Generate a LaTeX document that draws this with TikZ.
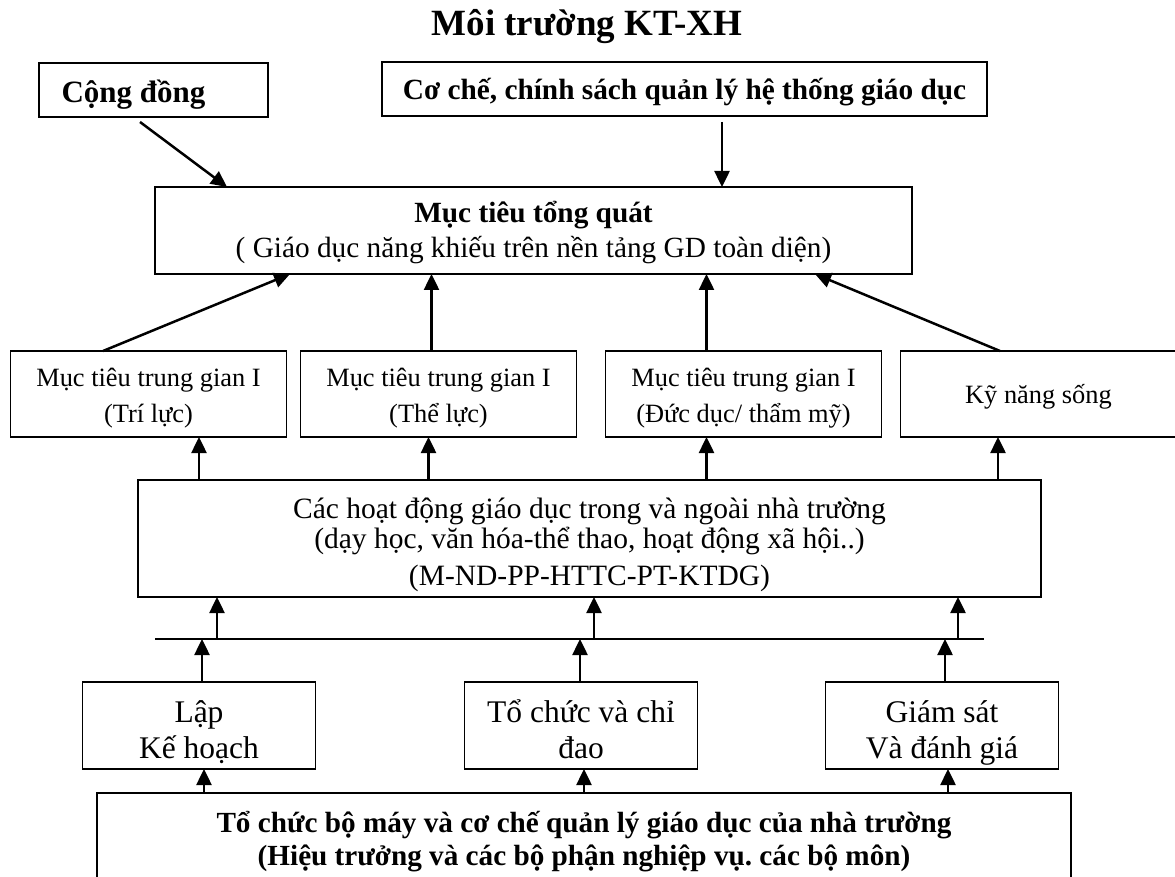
\documentclass[tikz,border=0pt]{standalone}
\usepackage{fontspec}
\setmainfont{Liberation Serif}
\frenchspacing
\usepackage{tikz}
\usetikzlibrary{arrows.meta,positioning}

\begin{document}
\begin{tikzpicture}[
  x=1pt, y=-1pt,
  box/.style={draw, line width=1.3pt, inner sep=0pt, outer sep=0pt, align=center},
  goalbox/.style={box, minimum width=276pt, minimum height=86pt,
    font=\fontsize{26.4pt}{36pt}\selectfont, text height=61.5pt, text depth=5.5pt},
  taskbox/.style={box, minimum width=233pt, minimum height=87pt,
    font=\fontsize{31.5pt}{36pt}\selectfont, text height=72pt, text depth=7pt},
  arrow/.style={-{Triangle[length=16pt,width=15pt]}, line width=2.5pt}
]
\useasboundingbox (0,0) rectangle (1175,877);
\clip (0,0) rectangle (1175,877);

\node[font=\fontsize{37pt}{40pt}\bfseries, anchor=base] (title) at (587,36) {Môi trường KT-XH};
\node[box, minimum width=229pt, minimum height=54pt, font=\fontsize{31pt}{36pt}\bfseries,
  text height=32pt, text depth=6pt] (congdong) at (153.5,90) {Cộng đồng\hspace*{40pt}};
\node[box, minimum width=605pt, minimum height=54pt, font=\fontsize{29.3pt}{34pt}\bfseries,
  text height=28pt, text depth=6pt] (coche) at (684.5,89) {Cơ chế, chính sách quản lý hệ thống giáo dục};
\node[box, minimum width=757pt, minimum height=87pt, font=\fontsize{29.3pt}{35pt}\selectfont,
  text height=61.5pt, text depth=6.5pt] (muctieu) at (533.5,230.5)
  {\textbf{Mục tiêu tổng quát}\\( Giáo dục năng khiếu trên nền tảng GD toàn diện)};

% muc tieu trung gian
\node[goalbox] (trituc) at (148.5,394) {Mục tiêu trung gian I\\(Trí lực)};
\node[goalbox, right=14pt of trituc] (theluc) {Mục tiêu trung gian I\\(Thể lực)};
\node[goalbox, right=29pt of theluc] (ducduc) {Mục tiêu trung gian I\\(Đức dục/ thẩm mỹ)};
\node[goalbox, right=19pt of ducduc, text height=23pt, text depth=5pt] (kynang) {Kỹ năng sống};

\node[box, minimum width=903pt, minimum height=117pt, font=\fontsize{29.5pt}{30pt}\selectfont,
  text height=99pt, text depth=6pt] (hoatdong) at (589.5,538.5)
  {Các hoạt động giáo dục trong và ngoài nhà trường\\(dạy học, văn hóa-thể thao, hoạt động xã hội..)\\[7pt](M-ND-PP-HTTC-PT-KTDG)};

\coordinate (barL) at (155,639);
\coordinate (barR) at (984,639);

% chuc nang quan ly
\node[taskbox] (lap) at (199,725.5) {Lập\\Kế hoạch};
\node[taskbox, right=149pt of lap] (tochuc) {Tổ chức và chỉ\\đao};
\node[taskbox, right=128pt of tochuc] (giamsat) {Giám sát\\Và đánh giá};

\node[box, minimum width=974pt, minimum height=100pt, font=\fontsize{29.2pt}{33pt}\bfseries,
  text height=51pt, text depth=7pt] (bomay) at (584,843)
  {Tổ chức bộ máy và cơ chế quản lý giáo dục của nhà trường\\(Hiệu trưởng và các bộ phận nghiệp vụ. các bộ môn)};

\draw[arrow] ([xshift=-13.5pt,yshift=-5pt]congdong.south) -- ([xshift=72pt]muctieu.north west);
\draw[arrow] ([xshift=37.5pt,yshift=-6pt]coche.south) -- ([xshift=37.5pt]coche.south |- muctieu.north);

\draw[arrow] ([xshift=-45.5pt]trituc.north) -- ([xshift=135pt]muctieu.south west);
\draw[arrow] ([xshift=-7pt]theluc.north) -- ([xshift=-7pt]theluc.north |- muctieu.south);
\draw[arrow] ([xshift=-37pt]ducduc.north) -- ([xshift=-37pt]ducduc.north |- muctieu.south);
\draw[arrow] ([xshift=-38.5pt]kynang.north) -- ([xshift=-97pt]muctieu.south east);

\draw[arrow] ([xshift=50.5pt]trituc.south |- hoatdong.north) -- ([xshift=50.5pt]trituc.south);
\draw[arrow] ([xshift=-10pt]theluc.south |- hoatdong.north) -- ([xshift=-10pt]theluc.south);
\draw[arrow] ([xshift=-37pt]ducduc.south |- hoatdong.north) -- ([xshift=-37pt]ducduc.south);
\draw[arrow] ([xshift=-40.5pt]kynang.south |- hoatdong.north) -- ([xshift=-40.5pt]kynang.south);

\draw[line width=2.5pt] (barL) -- (barR);
\draw[arrow] ([xshift=18pt]lap.north |- barL) -- ([xshift=18pt]lap.north |- hoatdong.south);
\draw[arrow] ([xshift=13pt]tochuc.north |- barL) -- ([xshift=13pt]tochuc.north |- hoatdong.south);
\draw[arrow] ([xshift=16pt]giamsat.north |- barL) -- ([xshift=16pt]giamsat.north |- hoatdong.south);

\draw[arrow] ([xshift=3pt]lap.north) -- ([xshift=3pt]lap.north |- barL);
\draw[arrow] ([xshift=-1pt]tochuc.north) -- ([xshift=-1pt]tochuc.north |- barL);
\draw[arrow] ([xshift=3pt]giamsat.north) -- ([xshift=3pt]giamsat.north |- barL);

\draw[arrow] ([xshift=5pt]lap.south |- bomay.north) -- ([xshift=5pt]lap.south);
\draw[arrow] ([xshift=3pt]tochuc.south |- bomay.north) -- ([xshift=3pt]tochuc.south);
\draw[arrow] ([xshift=6pt]giamsat.south |- bomay.north) -- ([xshift=6pt]giamsat.south);
\end{tikzpicture}
\end{document}
